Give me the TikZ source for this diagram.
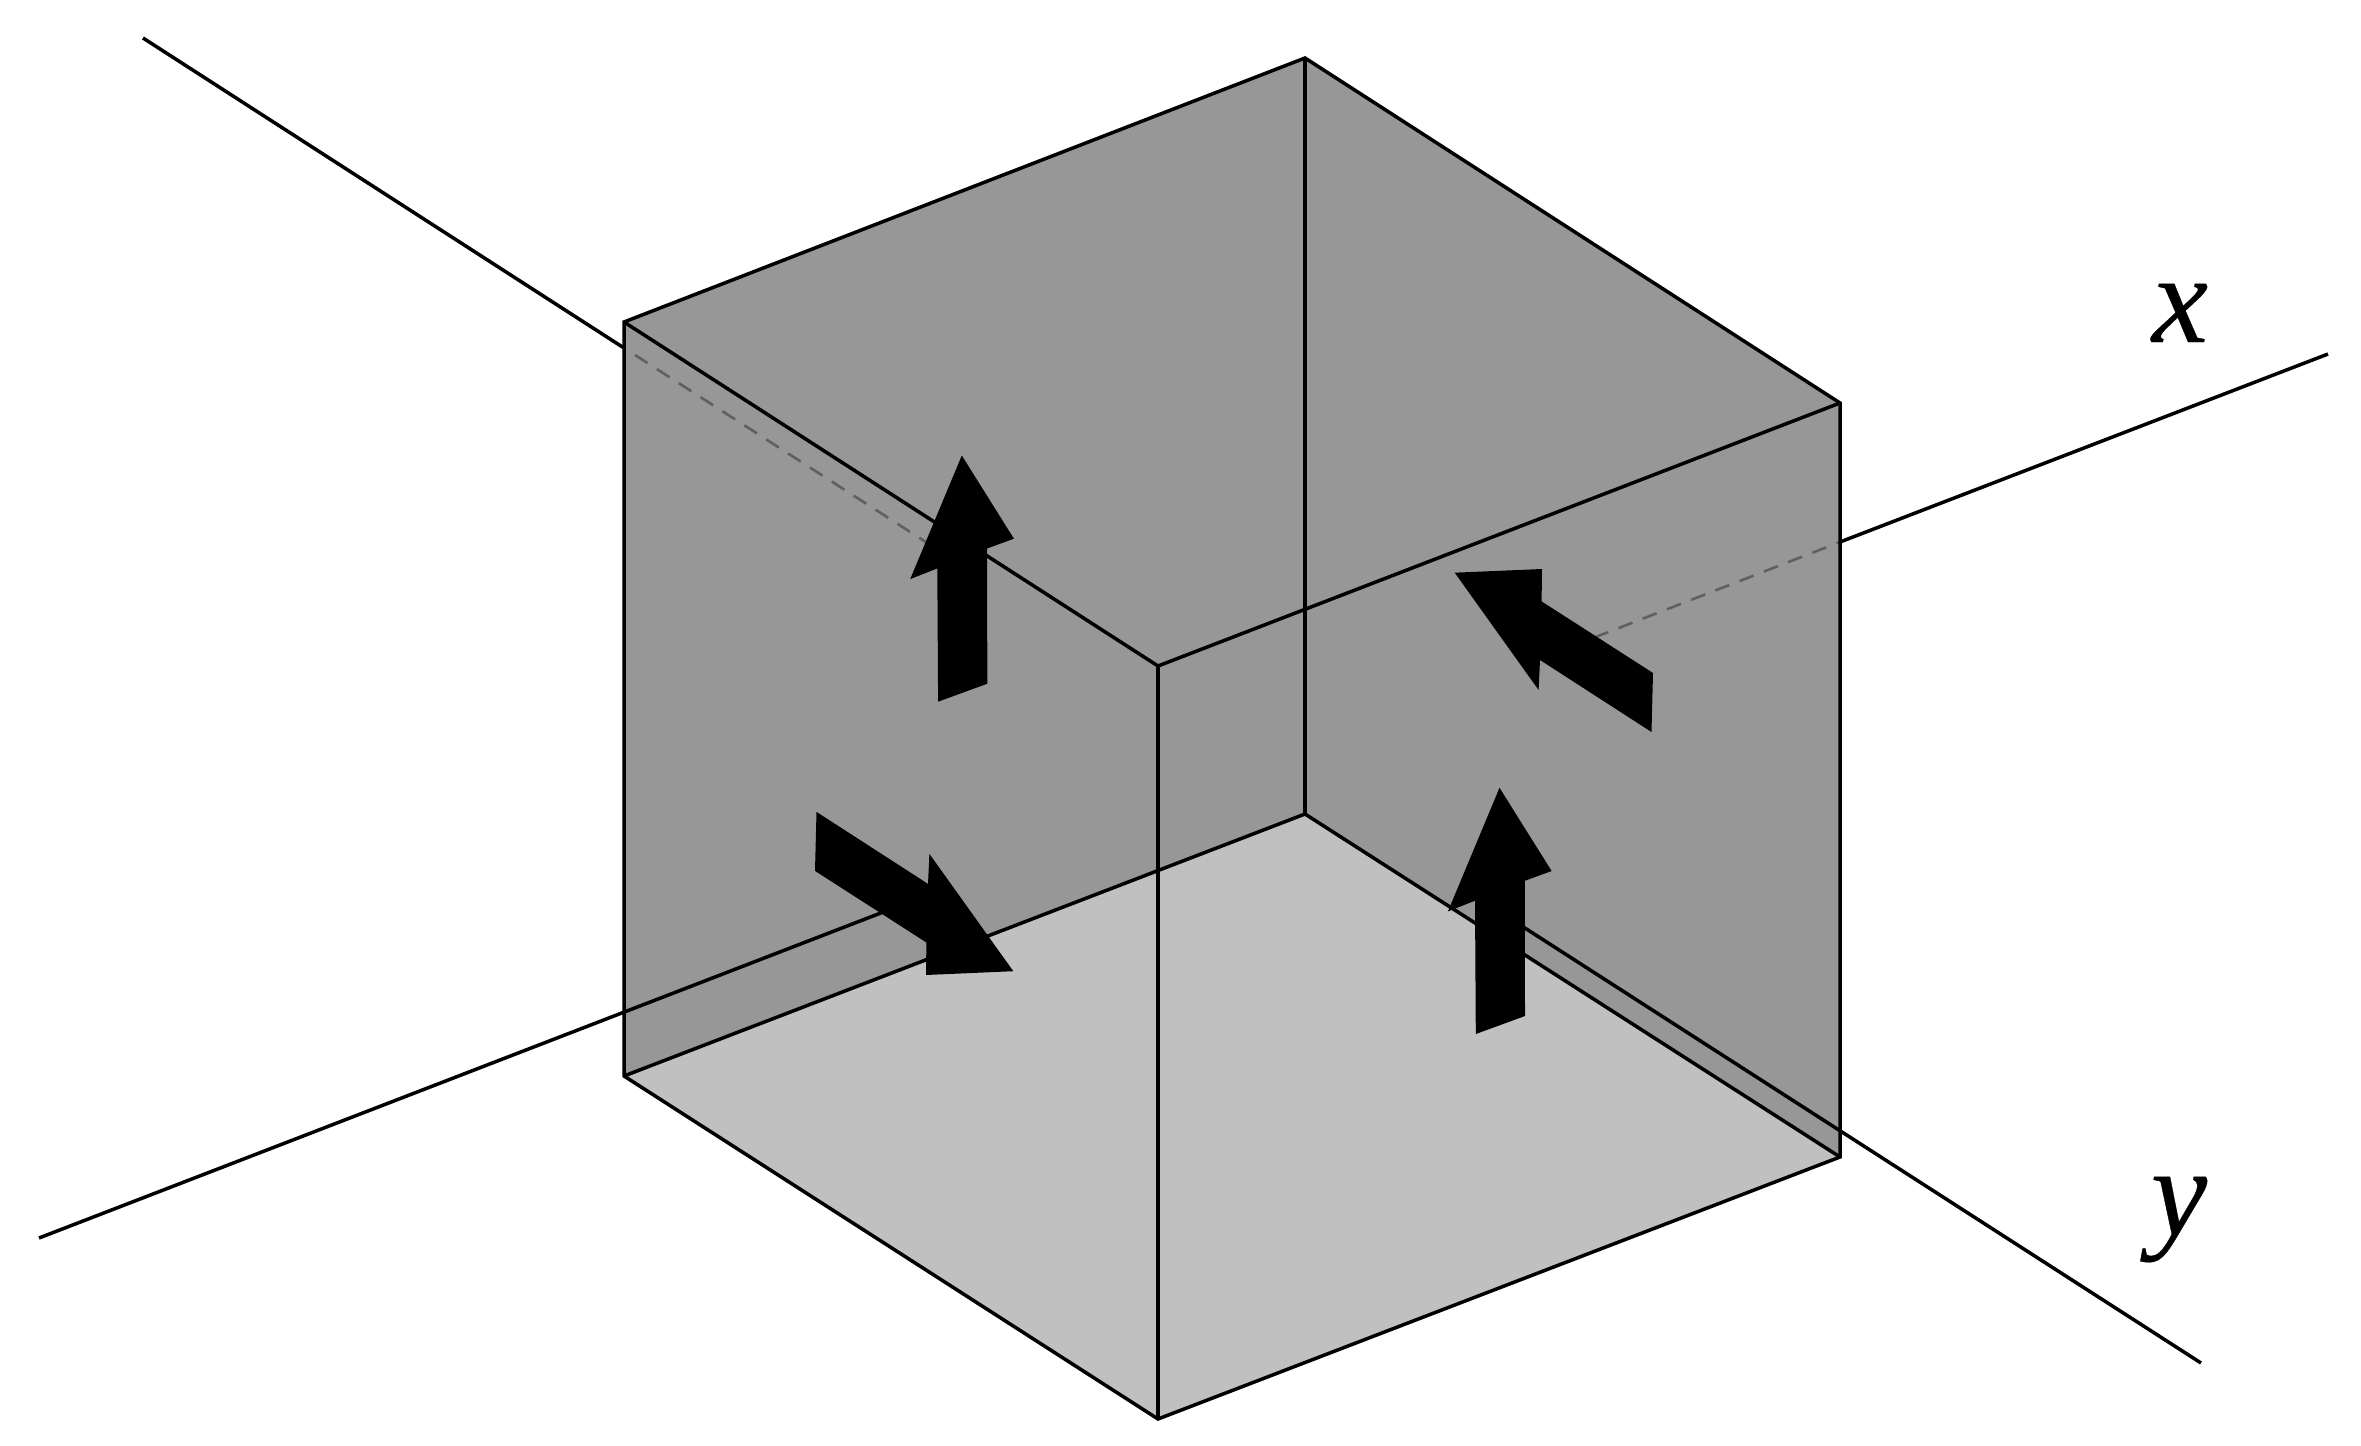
\documentclass[tikz,border=0pt]{standalone}
\usepackage{fontspec}
\setmainfont[ItalicFeatures={FakeBold=0.3}]{Liberation Serif}
\definecolor{wallgray}{HTML}{979797}
\definecolor{floorgray}{HTML}{C0C0C0}
\definecolor{hiddengray}{HTML}{606060}
\tikzset{
    edge/.style = {line width = 0.035cm, line join = miter},
    hidden/.style = {line width = 0.026cm, hiddengray, dash pattern = on 0.15cm off 0.11cm},
    axislabel/.style = {anchor = base, inner sep = 0pt, font = \fontsize{36}{36}\selectfont\itshape}
}
\begin{document}
\begin{tikzpicture}
        \useasboundingbox (0,0) rectangle (23.61,14.45);

        % Corners
        \coordinate (topleft) at (6.24,11.23);
        \coordinate (topback) at (13.05,13.87);
        \coordinate (topright) at (18.40,10.42);
        \coordinate (topfront) at (11.58,7.79);
        \coordinate (botback) at (13.05,6.31);
        \coordinate (botleft) at (6.24,3.69);
        \coordinate (botright) at (18.40,2.88);
        \coordinate (botfront) at (11.58,0.26);

        % Faces
        \fill[wallgray] (topleft) -- (topback) -- (topright) -- (botright) -- (botback) -- (botleft) -- cycle;
        \fill[floorgray] (botback) -- (botleft) -- (botfront) -- (botright) -- cycle;

        % Axis x
        \coordinate (xstart) at (0.39,2.07);
        \coordinate (xunder) at (9.30,5.51);
        \coordinate (xhidden) at (15.70,7.98);
        \coordinate (xout) at (18.40,9.03);
        \coordinate (xend) at (23.28,10.91);
        \draw[edge] (xstart) -- (xunder);
        \draw[hidden] (xhidden) -- (xout);
        \draw[edge] (xout) -- (xend);

        % Axis y
        \coordinate (ystart) at (1.43,14.07);
        \coordinate (yin) at (6.24,10.97);
        \coordinate (yhidden) at (6.35,10.90);
        \coordinate (yunder) at (9.60,8.81);
        \coordinate (yback) at (15.00,5.33);
        \coordinate (yend) at (22.01,0.82);
        \draw[edge] (ystart) -- (yin);
        \draw[hidden] (yhidden) -- (yunder);
        \draw[edge] (yback) -- (yend);

        % Edges
        \draw[edge] (topleft) -- (topback) -- (topright) -- (botright) -- (botfront) -- (botleft) -- cycle;
        \draw[edge] (topleft) -- (topfront) -- (topright);
        \draw[edge] (topfront) -- (botfront);
        \draw[edge] (topback) -- (botback);
        \draw[edge] (botleft) -- (botback) -- (botright);

        % Arrows
        \fill (9.618,9.895) -- (10.139,9.063) -- (9.871,8.965) -- (9.873,7.613) -- (9.381,7.433) -- (9.373,8.766) -- (9.102,8.659) -- cycle;
        \fill (14.995,6.572) -- (15.516,5.74) -- (15.248,5.642) -- (15.25,4.29) -- (14.758,4.11) -- (14.75,5.443) -- (14.479,5.336) -- cycle;
        \fill (14.547,8.723) -- (15.42,8.76) -- (15.416,8.436) -- (16.53,7.72) -- (16.515,7.13) -- (15.40,7.85) -- (15.386,7.55) -- cycle;
        \fill (10.133,4.738) -- (9.26,4.70) -- (9.264,5.025) -- (8.15,5.741) -- (8.165,6.331) -- (9.28,5.611) -- (9.294,5.911) -- cycle;

        % Labels
        \node[axislabel] (xlabel) at (21.80,11.03) {x};
        \node[axislabel] (ylabel) at (21.79,2.10) {y};
    \end{tikzpicture}
\end{document}
